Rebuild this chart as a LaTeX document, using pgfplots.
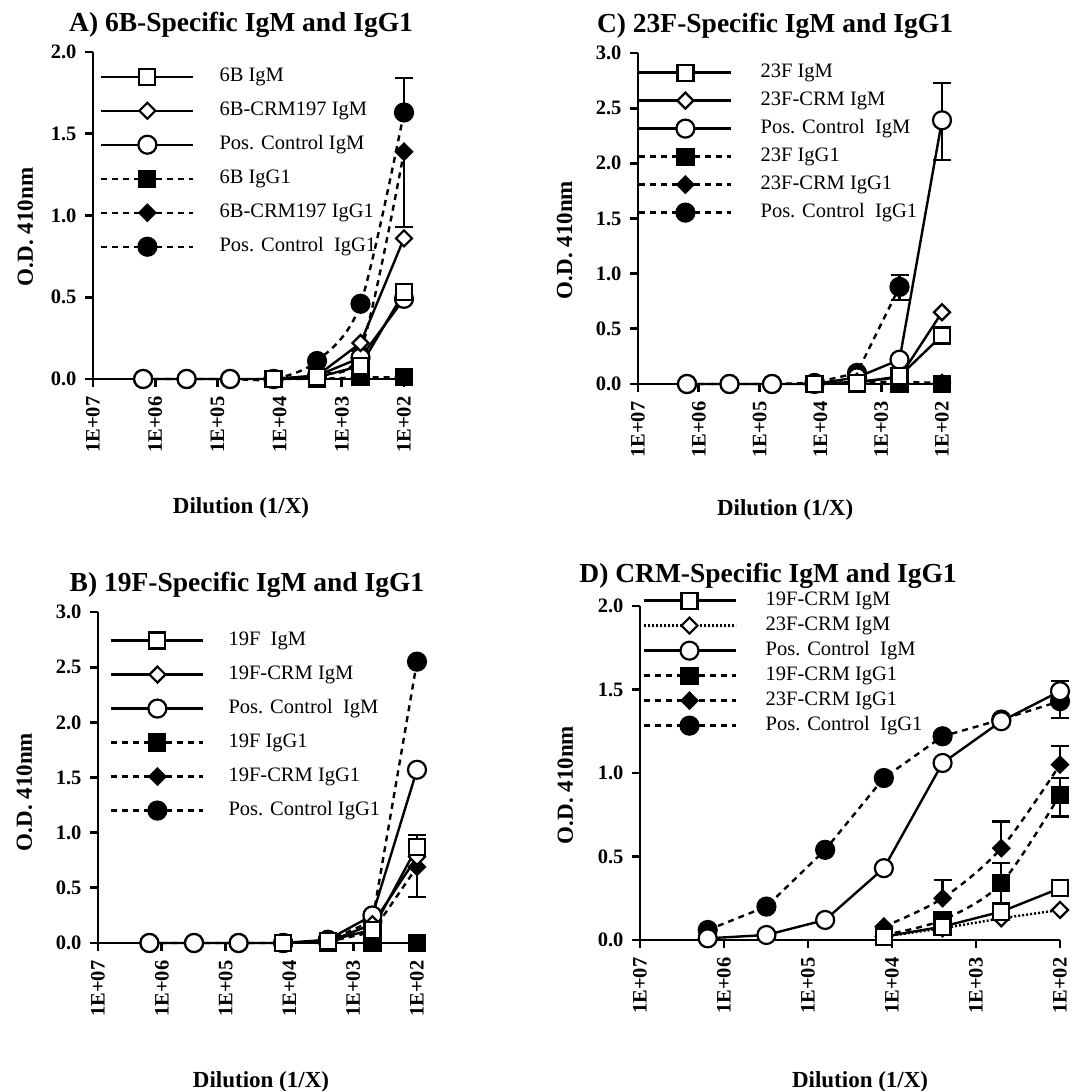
\documentclass[border=0pt]{standalone}
\usepackage{fontspec}
\setmainfont{Liberation Serif}
\usepackage{pgfplots}
\pgfplotsset{compat=1.18}

\newcommand\ttl{\fontsize{27.5}{30}\selectfont\bfseries}
\newcommand\lab{\fontsize{23}{26}\selectfont\bfseries}
\newcommand\tck{\fontsize{20.5}{22}\selectfont\bfseries}
\newcommand\leg{\fontsize{20.5}{22}\selectfont}

% diamond as wide as it is tall
\pgfdeclareplotmark{sqdiamond}{%
  \pgfpathmoveto{\pgfqpoint{0pt}{\pgfplotmarksize}}%
  \pgfpathlineto{\pgfqpoint{\pgfplotmarksize}{0pt}}%
  \pgfpathlineto{\pgfqpoint{0pt}{-\pgfplotmarksize}}%
  \pgfpathlineto{\pgfqpoint{-\pgfplotmarksize}{0pt}}%
  \pgfpathclose\pgfusepathqfillstroke}

\tikzset{
  zIgM/.style={black, line width=2.4pt, solid, mark options={solid, fill=white, line width=2.2pt}},
  zIgMdot/.style={black, line width=2.4pt, dash pattern=on 2pt off 2pt, mark options={solid, fill=white, line width=2.2pt}},
  zIgG/.style={black, line width=2.4pt, dash pattern=on 6pt off 5pt, mark options={solid, fill=black, line width=2.2pt}},
  zSq/.style={mark=square*, mark size=8pt},
  zDi/.style={mark=sqdiamond, mark size=8pt},
  zCi/.style={mark=*, mark size=9pt},
}
\pgfplotsset{
  legend image code/.code={%
    \draw[mark repeat=2, mark phase=2, #1] plot coordinates {(0pt,0pt) (46pt,0pt) (92pt,0pt)};%
  },
  every axis/.append style={
    scale only axis, enlargelimits=false, clip=false,
    xmode=log, x dir=reverse, xmin=100, xmax=10000000, xminorticks=false,
    xtick={100,1000,10000,100000,1000000,10000000},
    xticklabels={1E+02,1E+03,1E+04,1E+05,1E+06,1E+07},
    ymin=0,
    axis x line=bottom, axis y line=left,
    axis line style={-, line width=2.8pt},
    tick align=outside, major tick length=8pt,
    tick style={line width=2.8pt, black},
    xticklabel style={rotate=90, anchor=east, font=\tck},
    xticklabel shift=6pt,
    yticklabel style={font=\tck, xshift=-5pt},
    title style={font=\ttl, anchor=base},
    xlabel style={font=\lab, anchor=base},
    ylabel style={font=\lab, anchor=base},
    xlabel={Dilution (1/X)}, ylabel={O.D. 410nm},
    legend cell align=left,
  },
  ebar/.style={draw=none, mark=none, forget plot, error bars/.cd, y explicit, y dir=#1,
    error bar style={draw=black, line width=2.2pt, solid},
    error mark=-,
    error mark options={rotate=90, draw=black, line width=2.2pt, mark size=9pt}},
}

\begin{document}
\begin{tikzpicture}
\useasboundingbox (0,0) rectangle (1085pt,1091pt);

% ---------------- A ----------------
\begin{axis}[at={(93pt,712pt)}, anchor=south west, width=311pt, height=327pt,
    ymax=2, ytick={0,0.5,1,1.5,2}, yticklabels={0.0,0.5,1.0,1.5,2.0},
    title={A) 6B-Specific IgM and IgG1},
    title style={at={(axis description cs:0.476,1.043)}},
    xlabel style={at={(axis description cs:0.476,-0.410)}},
    ylabel style={at={(axis description cs:-0.193,0.465)}},
    legend style={draw=none, fill=none, at={(axis description cs:0.0225,0.954)}, anchor=north west,
      inner sep=0pt, row sep=15pt, column sep=25pt,
      nodes={inner sep=0pt, text height=14pt, text depth=5pt, font=\leg}}]
\addlegendimage{zIgM, zSq}\addlegendentry{6B IgM}
\addlegendimage{zIgM, zDi}\addlegendentry{6B-CRM197 IgM}
\addlegendimage{zIgM, zCi}\addlegendentry{Pos. Control IgM}
\addlegendimage{zIgG, zSq}\addlegendentry{6B IgG1}
\addlegendimage{zIgG, zDi}\addlegendentry{6B-CRM197 IgG1}
\addlegendimage{zIgG, zCi}\addlegendentry{Pos. Control~ IgG1}
\addplot[ebar=plus] coordinates {(100,1.63) +- (0,0.21)};
\addplot[ebar=minus] coordinates {(100,1.39) +- (0,0.46)};
\addplot[zIgG, zSq, forget plot] coordinates {(12500,0) (2500,0) (500,0.01) (100,0.01)};
\addplot[zIgG, zDi, smooth, forget plot] coordinates {(12500,0) (2500,0.03) (500,0.17) (100,1.39)};
\addplot[zIgG, zCi, smooth, forget plot] coordinates {(1562500,0) (312500,0) (62500,0) (12500,0) (2500,0.11) (500,0.46) (100,1.63)};
\addplot[zIgM, zCi, forget plot] coordinates {(1562500,0) (312500,0) (62500,0) (12500,0) (2500,0.02) (500,0.13) (100,0.49)};
\addplot[zIgM, zDi, forget plot] coordinates {(12500,0) (2500,0.02) (500,0.22) (100,0.86)};
\addplot[zIgM, zSq, forget plot] coordinates {(12500,0) (2500,0.01) (500,0.08) (100,0.53)};
\end{axis}

% ---------------- C ----------------
\begin{axis}[at={(638pt,707pt)}, anchor=south west, width=304pt, height=331pt,
    ymax=3, ytick={0,0.5,1,1.5,2,2.5,3}, yticklabels={0.0,0.5,1.0,1.5,2.0,2.5,3.0},
    title={C) 23F-Specific IgM and IgG1},
    title style={at={(axis description cs:0.451,1.045)}},
    xlabel style={at={(axis description cs:0.484,-0.396)}},
    ylabel style={at={(axis description cs:-0.217,0.435)}},
    legend style={draw=none, fill=none, at={(axis description cs:0,0.970)}, anchor=north west,
      inner sep=0pt, row sep=9pt, column sep=28pt,
      nodes={inner sep=0pt, text height=14pt, text depth=5pt, font=\leg}}]
\addlegendimage{zIgM, zSq}\addlegendentry{23F IgM}
\addlegendimage{zIgM, zDi}\addlegendentry{23F-CRM IgM}
\addlegendimage{zIgM, zCi}\addlegendentry{Pos. Control~ IgM}
\addlegendimage{zIgG, zSq}\addlegendentry{23F IgG1}
\addlegendimage{zIgG, zDi}\addlegendentry{23F-CRM IgG1}
\addlegendimage{zIgG, zCi}\addlegendentry{Pos. Control~ IgG1}
\addplot[ebar=both] coordinates {(100,2.39) += (0,0.34) -= (0,0.36)};
\addplot[ebar=both] coordinates {(500,0.88) += (0,0.11) -= (0,0.12)};
\addplot[zIgG, zSq, forget plot] coordinates {(12500,0) (2500,0) (500,0) (100,0)};
\addplot[zIgG, zDi, forget plot] coordinates {(12500,0) (2500,0.02) (500,0.02) (100,0.01)};
\addplot[zIgG, zCi, forget plot] coordinates {(1562500,0) (312500,0) (62500,0) (12500,0.01) (2500,0.10) (500,0.88)};
\addplot[zIgM, zCi, forget plot] coordinates {(1562500,0) (312500,0) (62500,0) (12500,0) (2500,0.06) (500,0.22) (100,2.39)};
\addplot[zIgM, zDi, forget plot] coordinates {(12500,0) (2500,0.02) (500,0.06) (100,0.65)};
\addplot[zIgM, zSq, forget plot] coordinates {(12500,0) (2500,0.01) (500,0.07) (100,0.44)};
\end{axis}

% ---------------- B ----------------
\begin{axis}[at={(98pt,148pt)}, anchor=south west, width=319pt, height=331pt,
    ymax=3, ytick={0,0.5,1,1.5,2,2.5,3}, yticklabels={0.0,0.5,1.0,1.5,2.0,2.5,3.0},
    title={B) 19F-Specific IgM and IgG1},
    title style={at={(axis description cs:0.467,1.045)}},
    xlabel style={at={(axis description cs:0.511,-0.438)}},
    ylabel style={at={(axis description cs:-0.207,0.456)}},
    legend style={draw=none, fill=none, at={(axis description cs:0.0376,0.943)}, anchor=north west,
      inner sep=0pt, row sep=15pt, column sep=24pt,
      nodes={inner sep=0pt, text height=14pt, text depth=5pt, font=\leg}}]
\addlegendimage{zIgM, zSq}\addlegendentry{19F~ IgM}
\addlegendimage{zIgM, zDi}\addlegendentry{19F-CRM IgM}
\addlegendimage{zIgM, zCi}\addlegendentry{Pos. Control~ IgM}
\addlegendimage{zIgG, zSq}\addlegendentry{19F IgG1}
\addlegendimage{zIgG, zDi}\addlegendentry{19F-CRM IgG1}
\addlegendimage{zIgG, zCi}\addlegendentry{Pos. Control IgG1}
\addplot[ebar=plus] coordinates {(100,0.87) +- (0,0.11)};
\addplot[ebar=minus] coordinates {(100,0.69) +- (0,0.27)};
\addplot[zIgG, zSq, forget plot] coordinates {(12500,0) (2500,0) (500,0) (100,0)};
\addplot[zIgG, zDi, forget plot] coordinates {(12500,0) (2500,0.01) (500,0.10) (100,0.69)};
\addplot[zIgG, zCi, forget plot] coordinates {(1562500,0) (312500,0) (62500,0) (12500,0) (2500,0.02) (500,0.20) (100,2.55)};
\addplot[zIgM, zCi, forget plot] coordinates {(1562500,0) (312500,0) (62500,0) (12500,0) (2500,0.03) (500,0.25) (100,1.57)};
\addplot[zIgM, zDi, forget plot] coordinates {(12500,0) (2500,0.01) (500,0.17) (100,0.78)};
\addplot[zIgM, zSq, forget plot] coordinates {(12500,0) (2500,0.02) (500,0.12) (100,0.87)};
\end{axis}

% ---------------- D ----------------
\begin{axis}[at={(640pt,151pt)}, anchor=south west, width=420pt, height=334pt,
    ymax=2, ytick={0,0.5,1,1.5,2}, yticklabels={0.0,0.5,1.0,1.5,2.0},
    title={D) CRM-Specific IgM and IgG1},
    title style={at={(axis description cs:0.305,1.053)}},
    xlabel style={at={(axis description cs:0.524,-0.443)}},
    ylabel style={at={(axis description cs:-0.160,0.464)}},
    legend style={draw=none, fill=none, at={(axis description cs:0.005,1.045)}, anchor=north west,
      inner sep=0pt, row sep=6pt, column sep=29pt,
      nodes={inner sep=0pt, text height=14pt, text depth=5pt, font=\leg}}]
\addlegendimage{zIgM, zSq}\addlegendentry{19F-CRM IgM}
\addlegendimage{zIgMdot, zDi}\addlegendentry{23F-CRM IgM}
\addlegendimage{zIgM, zCi}\addlegendentry{Pos. Control~ IgM}
\addlegendimage{zIgG, zSq}\addlegendentry{19F-CRM IgG1}
\addlegendimage{zIgG, zDi}\addlegendentry{23F-CRM IgG1}
\addlegendimage{zIgG, zCi}\addlegendentry{Pos. Control~ IgG1}
\addplot[ebar=plus] coordinates {(100,1.49) +- (0,0.06)};
\addplot[ebar=minus] coordinates {(100,1.43) +- (0,0.10)};
\addplot[ebar=plus] coordinates {(2500,0.25) +- (0,0.11) (500,0.55) +- (0,0.16) (100,1.05) +- (0,0.11)};
\addplot[ebar=both] coordinates {(500,0.34) += (0,0.12) -= (0,0.12) (100,0.87) += (0,0.10) -= (0,0.13)};
\addplot[zIgG, zCi, forget plot] coordinates {(1562500,0.06) (312500,0.20) (62500,0.54) (12500,0.97) (2500,1.22) (500,1.32) (100,1.43)};
\addplot[zIgG, zDi, smooth, forget plot] coordinates {(12500,0.08) (2500,0.25) (500,0.55) (100,1.05)};
\addplot[zIgG, zSq, smooth, forget plot] coordinates {(12500,0.03) (2500,0.12) (500,0.34) (100,0.87)};
\addplot[zIgM, zCi, forget plot] coordinates {(1562500,0.01) (312500,0.03) (62500,0.12) (12500,0.43) (2500,1.06) (500,1.31) (100,1.49)};
\addplot[zIgMdot, zDi, forget plot] coordinates {(12500,0.02) (2500,0.07) (500,0.13) (100,0.18)};
\addplot[zIgM, zSq, forget plot] coordinates {(12500,0.02) (2500,0.08) (500,0.17) (100,0.31)};
\end{axis}
\end{tikzpicture}
\end{document}
